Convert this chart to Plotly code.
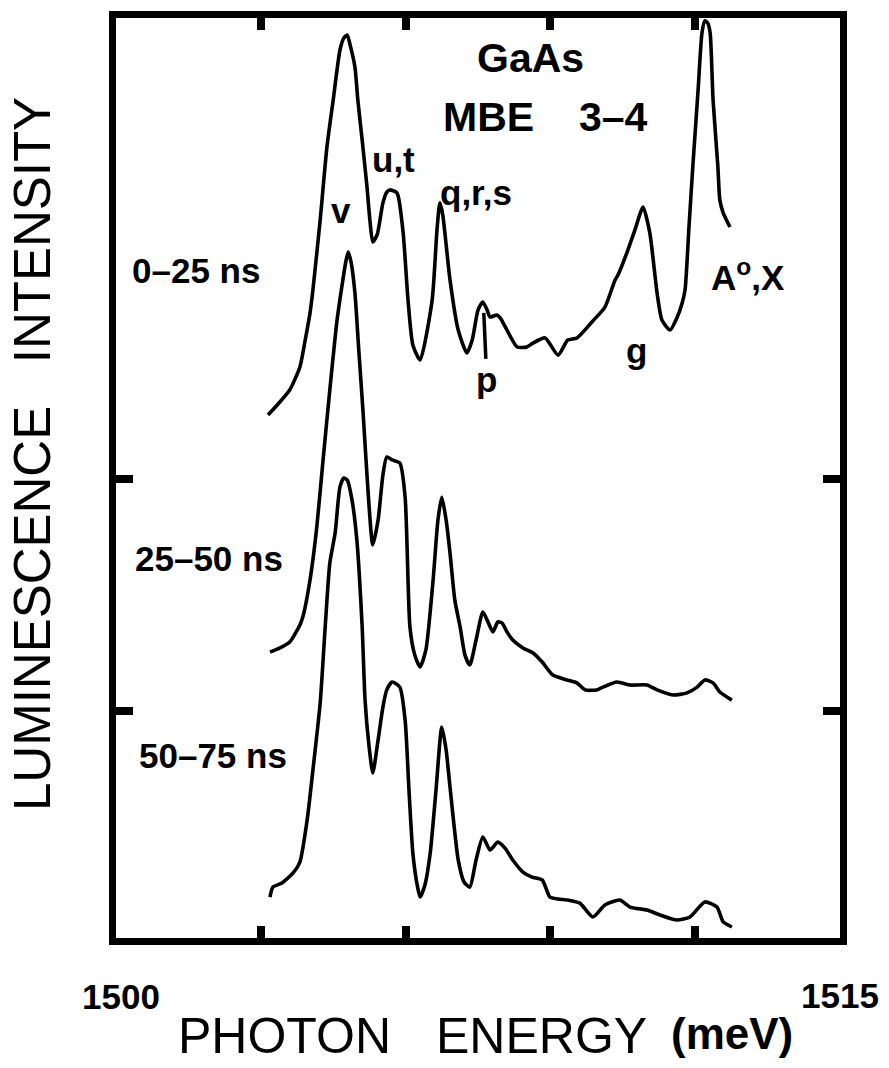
import plotly.graph_objects as go

# ---------------- data (photon energy in meV, luminescence intensity in arb. units, offset per window)
energy_0_25 = [1503.15, 1503.40, 1503.60, 1503.81, 1503.92, 1504.02, 1504.08, 1504.23, 1504.37, 1504.50,
               1504.64, 1504.72, 1504.79, 1504.85, 1504.95, 1505.01, 1505.10, 1505.20, 1505.26, 1505.32,
               1505.41, 1505.53, 1505.61, 1505.68, 1505.80, 1505.84, 1505.95, 1506.05, 1506.15, 1506.30,
               1506.55, 1506.65, 1506.71, 1506.77, 1506.92, 1507.09, 1507.27, 1507.38, 1507.50, 1507.60,
               1507.69, 1507.75, 1507.89, 1507.96, 1508.10, 1508.31, 1508.51, 1508.64, 1508.89, 1509.16,
               1509.36, 1509.55, 1509.86, 1510.13, 1510.34, 1510.40, 1510.59, 1510.75, 1510.92, 1511.06,
               1511.21, 1511.31, 1511.48, 1511.62, 1511.73, 1511.79, 1511.87, 1511.95, 1512.06, 1512.14,
               1512.20, 1512.26, 1512.31, 1512.37, 1512.47, 1512.51, 1512.58, 1512.72]
intensity_0_25 = [227.6, 233.3, 238.4, 248.3, 259.9, 271.6, 281.5, 311.6, 343.1, 363.4,
                  384.9, 390.1, 391.4, 387.1, 377.6, 363.4, 346.1, 325.9, 311.6, 302.2,
                  305.2, 319.0, 323.7, 324.6, 323.7, 322.4, 306.0, 277.2, 257.8, 251.3,
                  277.2, 307.3, 319.0, 313.8, 285.8, 264.2, 254.3, 259.9, 272.8, 276.3,
                  272.8, 269.8, 270.7, 269.4, 264.2, 256.9, 256.9, 258.6, 260.8, 253.4,
                  259.9, 260.8, 267.7, 274.1, 285.8, 287.9, 297.8, 307.3, 317.2, 306.0,
                  280.2, 268.5, 264.2, 269.4, 275.9, 281.5, 308.2, 334.5, 367.7, 392.2,
                  397.5, 396.5, 392.2, 363.4, 334.5, 320.3, 314.7, 308.6]

energy_25_50 = [1503.19, 1503.40, 1503.60, 1503.81, 1503.87, 1504.02, 1504.16, 1504.29, 1504.43, 1504.58,
                1504.70, 1504.76, 1504.81, 1504.87, 1504.95, 1505.03, 1505.12, 1505.22, 1505.32, 1505.43,
                1505.53, 1505.61, 1505.72, 1505.88, 1505.99, 1506.09, 1506.19, 1506.30, 1506.42, 1506.57,
                1506.67, 1506.75, 1506.84, 1506.92, 1507.02, 1507.13, 1507.23, 1507.33, 1507.46, 1507.60,
                1507.69, 1507.81, 1507.91, 1508.00, 1508.10, 1508.22, 1508.43, 1508.64, 1508.83, 1509.05,
                1509.34, 1509.55, 1509.72, 1509.96, 1510.09, 1510.38, 1510.65, 1511.00, 1511.21, 1511.54,
                1511.83, 1512.04, 1512.20, 1512.37, 1512.51, 1512.76]
intensity_25_50 = [125.4, 127.2, 129.7, 137.1, 140.5, 156.5, 179.3, 208.2, 238.4, 268.5,
                   285.8, 293.5, 297.8, 293.5, 280.2, 255.6, 228.4, 195.3, 171.6, 182.3,
                   201.7, 209.5, 208.2, 206.9, 192.2, 136.2, 124.1, 119.0, 126.3, 156.5,
                   182.3, 192.2, 182.3, 168.1, 147.8, 136.2, 124.1, 119.8, 130.6, 142.7,
                   139.2, 134.1, 138.4, 137.9, 134.1, 130.6, 127.2, 125.0, 121.1, 115.5,
                   113.4, 112.1, 109.1, 109.1, 110.3, 112.5, 111.2, 111.2, 109.1, 106.9,
                   107.8, 110.3, 113.4, 112.1, 108.2, 104.7]

energy_50_75 = [1503.19, 1503.25, 1503.44, 1503.67, 1503.81, 1503.96, 1504.08, 1504.23, 1504.33, 1504.43,
                1504.54, 1504.64, 1504.72, 1504.79, 1504.89, 1504.99, 1505.10, 1505.16, 1505.24, 1505.32,
                1505.43, 1505.53, 1505.61, 1505.72, 1505.88, 1505.99, 1506.07, 1506.15, 1506.24, 1506.30,
                1506.40, 1506.51, 1506.63, 1506.75, 1506.84, 1506.92, 1507.09, 1507.21, 1507.33, 1507.46,
                1507.60, 1507.75, 1507.91, 1508.06, 1508.22, 1508.43, 1508.62, 1508.83, 1508.99, 1509.16,
                1509.36, 1509.61, 1509.88, 1510.13, 1510.44, 1510.65, 1511.00, 1511.27, 1511.62, 1511.89,
                1512.20, 1512.45, 1512.58, 1512.76]
intensity_50_75 = [19.8, 24.1, 25.9, 30.2, 34.9, 53.0, 74.6, 103.4, 134.9, 163.8,
                   176.7, 196.6, 200.4, 199.6, 190.9, 173.7, 136.2, 104.7, 85.3, 73.3,
                   87.5, 101.7, 109.1, 112.5, 110.3, 96.1, 65.9, 38.8, 25.0, 19.8,
                   25.0, 38.8, 65.9, 93.1, 83.2, 67.2, 35.8, 26.3, 24.1, 35.8,
                   45.7, 40.1, 43.5, 40.9, 35.8, 30.6, 28.4, 27.2, 19.8, 19.0,
                   18.5, 17.2, 11.2, 16.4, 18.5, 15.5, 14.2, 12.1, 9.9, 11.2,
                   17.7, 15.5, 9.1, 6.9]

x_tick_values = [1503, 1506, 1509, 1512]
y_tick_values = [100, 200]
x_end_labels = ["1500", "1515"]
window_labels = ["0\u201325 ns", "25\u201350 ns", "50\u201375 ns"]
peak_labels = ["v", "u,t", "q,r,s", "p", "g", "A<sup>o</sup>,X"]

# ---------------- figure
FONT = "Liberation Sans, Arial, sans-serif"
fig = go.Figure()
for xs, ys in [(energy_0_25, intensity_0_25), (energy_25_50, intensity_25_50), (energy_50_75, intensity_50_75)]:
    fig.add_trace(go.Scatter(x=xs, y=ys, mode="lines",
                             line=dict(color="black", width=3.6, shape="spline", smoothing=0.6),
                             hoverinfo="skip", showlegend=False))

axis_common = dict(showgrid=False, zeroline=False, showline=True, linecolor="black", linewidth=7,
                   mirror="ticks", ticks="inside", tickcolor="black", tickwidth=8, showticklabels=False)
fig.update_xaxes(range=[1500, 1515], tickvals=x_tick_values, ticklen=12, **axis_common)
fig.update_yaxes(range=[2.16, 398.7], tickvals=y_tick_values, ticklen=17, **axis_common)

ann = []
def lab(text, x, y, size, ref="data", bold=True, angle=0, xanchor="center"):
    t = f"<b>{text}</b>" if bold else text
    d = dict(text=t, x=x, y=y, showarrow=False, textangle=angle, xanchor=xanchor, yanchor="middle",
             font=dict(family=FONT, size=size, color="black"))
    if ref == "data":
        d.update(xref="x", yref="y")
    else:
        d.update(xref="paper", yref="paper")
    ann.append(d)

# title block
lab("GaAs", 1508.58, 381.5, 41)
lab("MBE", 1507.71, 356.0, 41)
lab("3\u20134", 1510.30, 356.0, 41)
# peak labels
lab(peak_labels[0], 1504.66, 315.9, 35)
lab(peak_labels[1], 1505.74, 337.5, 35)
lab(peak_labels[2], 1507.46, 323.7, 35)
lab(peak_labels[4], 1510.79, 255.6, 35)
lab(peak_labels[5], 1513.09, 287.9, 35)
# p with pointer line
ann.append(dict(text="<b>p</b>", x=1507.62, y=271.6, xref="x", yref="y", showarrow=True,
                arrowhead=0, arrowwidth=3.5, arrowcolor="black", ax=3, ay=67, standoff=0,
                font=dict(family=FONT, size=35, color="black")))
# time windows
lab(window_labels[0], 1501.66, 289.7, 35)
lab(window_labels[1], 1501.93, 165.9, 35)
lab(window_labels[2], 1502.01, 81.0, 35)
# axis end labels and titles (paper coords)
lab(x_end_labels[0], 0.0069, -0.0632, 35, ref="paper")
lab(x_end_labels[1], 1.0, -0.062, 35, ref="paper")
lab("PHOTON", 0.2334, -0.106, 50, ref="paper", bold=False)
lab("ENERGY", 0.5877, -0.106, 50, ref="paper", bold=False)
lab("(meV)", 0.8515, -0.104, 44, ref="paper")
lab("LUMINESCENCE\u00a0\u00a0\u00a0INTENSITY", -0.1146, 0.5261, 51, ref="paper", bold=False, angle=-90)

fig.update_layout(width=889, height=1068, autosize=False,
                  margin=dict(l=116, r=49, t=18, b=130, pad=0),
                  paper_bgcolor="white", plot_bgcolor="white",
                  annotations=ann, showlegend=False)

fig.write_html("out.html")
